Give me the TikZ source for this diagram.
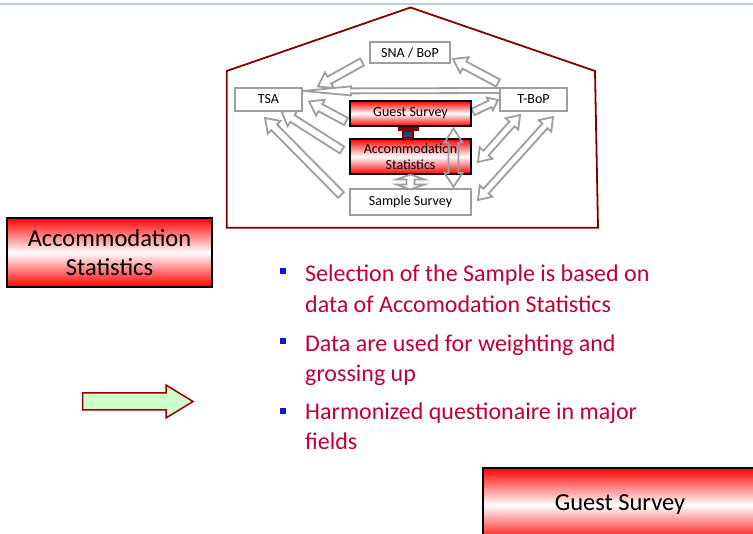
\documentclass[tikz,border=0pt]{standalone}
\usepackage{fontspec}
\setmainfont{Carlito}
\usetikzlibrary{calc}
\definecolor{topline}{RGB}{185,205,228}
\definecolor{housered}{RGB}{128,0,0}
\definecolor{arrgray}{RGB}{158,158,158}
\definecolor{bultext}{RGB}{192,0,50}
\definecolor{bulblue}{RGB}{10,20,235}
\definecolor{lgreen}{RGB}{204,255,204}
\definecolor{darkred}{RGB}{150,0,0}
\definecolor{knob}{RGB}{31,73,125}
% single block arrow: [style]{tail}{tip}{half shaft}{half head}{head length}
\newcommand{\blkarrow}[6][]{%
  \coordinate (bah) at ($(#3)!#6!(#2)$);
  \draw[#1] ($(#2)!#4!90:(#3)$) -- ($(bah)!#4!90:(#3)$) -- ($(bah)!#5!90:(#3)$) -- (#3)
    -- ($(bah)!#5!-90:(#3)$) -- ($(bah)!#4!-90:(#3)$) -- ($(#2)!#4!-90:(#3)$) -- cycle;}
% double block arrow
\newcommand{\dblarrow}[6][]{%
  \coordinate (bha) at ($(#2)!#6!(#3)$);
  \coordinate (bhb) at ($(#3)!#6!(#2)$);
  \draw[#1] (#2) -- ($(bha)!#5!90:(#3)$) -- ($(bha)!#4!90:(#3)$) -- ($(bhb)!#4!90:(#3)$)
    -- ($(bhb)!#5!90:(#3)$) -- (#3) -- ($(bhb)!#5!-90:(#3)$) -- ($(bhb)!#4!-90:(#3)$)
    -- ($(bha)!#4!-90:(#3)$) -- ($(bha)!#5!-90:(#3)$) -- cycle;}
\tikzset{
  graybox/.style={draw=arrgray, line width=2pt, fill=white, inner sep=0pt, outer sep=0pt,
    font=\fontsize{14}{16}\selectfont, align=center},
  redbox/.style={draw=black, line width=2pt, top color=red, bottom color=red, middle color=white,
    inner sep=0pt, outer sep=0pt, align=center},
  grayarrow/.style={draw=arrgray, line width=1.8pt, fill=white, line join=miter},
  bullettext/.style={text=bultext, anchor=base west, inner sep=0pt, font=\fontsize{24}{30}\selectfont},
  bulletsq/.style={fill=bulblue, inner sep=0pt, minimum size=6pt},
}
\begin{document}
\begin{tikzpicture}[x=1pt, y=-1pt]
\clip (0,0) rectangle (753,534);
\fill[white] (0,0) rectangle (753,534);
\draw[topline, line width=2pt] (0,4) -- (753,4);
% house
\draw[housered, line width=1.8pt, line join=miter] (226.7,227.7) -- (226.7,71) -- (410.5,7.5) -- (595,71) -- (598,227.7) -- cycle;
% nodes of the house diagram
\node[graybox, minimum width=80pt, minimum height=21pt] (sna) at (410,52.5) {SNA / BoP};
\node[graybox, minimum width=67pt, minimum height=23pt] (tsa) at (268.5,99.5) {TSA};
\node[graybox, minimum width=67pt, minimum height=23pt] (tbop) at (533.5,99.5) {T-BoP};
% arrow end points
\coordinate (a1t) at (362,62);   \coordinate (a1h) at (318,86.5);
\coordinate (a2t) at (498,83);   \coordinate (a2h) at (453,59);
\coordinate (a3t) at (500,90.5); \coordinate (a3h) at (303,91);
\coordinate (a4t) at (346,121.5);\coordinate (a4h) at (309,101.5);
\coordinate (a5t) at (342,150);  \coordinate (a5h) at (281.5,111.5);
\coordinate (a6t) at (341,195);  \coordinate (a6h) at (265,118);
\coordinate (a7t) at (473,112);  \coordinate (a7h) at (498,100);
\coordinate (a8a) at (478,162);  \coordinate (a8b) at (520,115);
\coordinate (a9a) at (478,200);  \coordinate (a9b) at (553,117);
\blkarrow[grayarrow]{a1t}{a1h}{4pt}{9pt}{13pt}
\blkarrow[grayarrow]{a2t}{a2h}{4pt}{9pt}{13pt}
\blkarrow[grayarrow]{a3t}{a3h}{2.5pt}{4.5pt}{48pt}
\blkarrow[grayarrow]{a4t}{a4h}{4pt}{9pt}{13pt}
\blkarrow[grayarrow]{a5t}{a5h}{4pt}{9pt}{13pt}
\blkarrow[grayarrow]{a6t}{a6h}{4pt}{9pt}{13pt}
\blkarrow[grayarrow]{a7t}{a7h}{3.5pt}{7pt}{9pt}
\dblarrow[grayarrow]{a8a}{a8b}{3.5pt}{8.5pt}{12pt}
\dblarrow[grayarrow]{a9a}{a9b}{3.5pt}{8.5pt}{12pt}
\node[redbox, minimum width=121pt, minimum height=25pt, font=\fontsize{14}{16}\selectfont] (gs) at (410.5,113.5) {Guest Survey};
\node[redbox, minimum width=121pt, minimum height=35pt, font=\fontsize{14}{16}\selectfont] (acc) at (410.5,156.5) {Accommodation\\Statistics};
\node[graybox, minimum width=121pt, minimum height=26pt] (ss) at (410.5,202) {Sample Survey};
% connector between Guest Survey and Accommodation Statistics
\fill[housered] (397.5,127.5) rectangle (418.5,131.5);
\draw[housered, fill=knob, line width=1.3pt] (403,131.5) rectangle (413,138);
% connectors between the central boxes
\coordinate (v1) at (410.5,174.5); \coordinate (v2) at (410.5,189.5);
\dblarrow[grayarrow]{v1}{v2}{4pt}{14pt}{5pt}
\coordinate (r1) at (453.5,128.5); \coordinate (r2) at (453.5,187);
\dblarrow[draw=arrgray, line width=1.8pt]{r1}{r2}{5pt}{9pt}{14pt}
% left box
\node[redbox, minimum width=205pt, minimum height=69pt, font=\fontsize{24.5}{29}\selectfont] (lacc) at (109.5,252.5) {Accommodation\\Statistics};
% bottom right box
\node[redbox, minimum width=274pt, minimum height=74pt, font=\fontsize{24.5}{29}\selectfont] (bgs) at (620,505) {Guest Survey};
% green arrow
\draw[darkred, fill=lgreen, line width=1.5pt, line join=miter] (82.7,393) -- (166,393) -- (166,385) -- (193,401.5) -- (166,418) -- (166,410) -- (82.7,410) -- cycle;
% bullets
\node[bulletsq] (q1) at (282.5,271.5) {};
\node[bulletsq] (q2) at (282.5,341.5) {};
\node[bulletsq] (q3) at (282.5,411.5) {};
\node[bullettext] (t1a) at (305,281.5) {Selection of the Sample is based on};
\node[bullettext] (t1b) at (305,313) {data of Accomodation Statistics};
\node[bullettext] (t2a) at (305,351.5) {Data are used for weighting and};
\node[bullettext] (t2b) at (305,382) {grossing up};
\node[bullettext] (t3a) at (305,420) {Harmonized questionaire in major};
\node[bullettext] (t3b) at (305,450) {fields};
\end{tikzpicture}
\end{document}
